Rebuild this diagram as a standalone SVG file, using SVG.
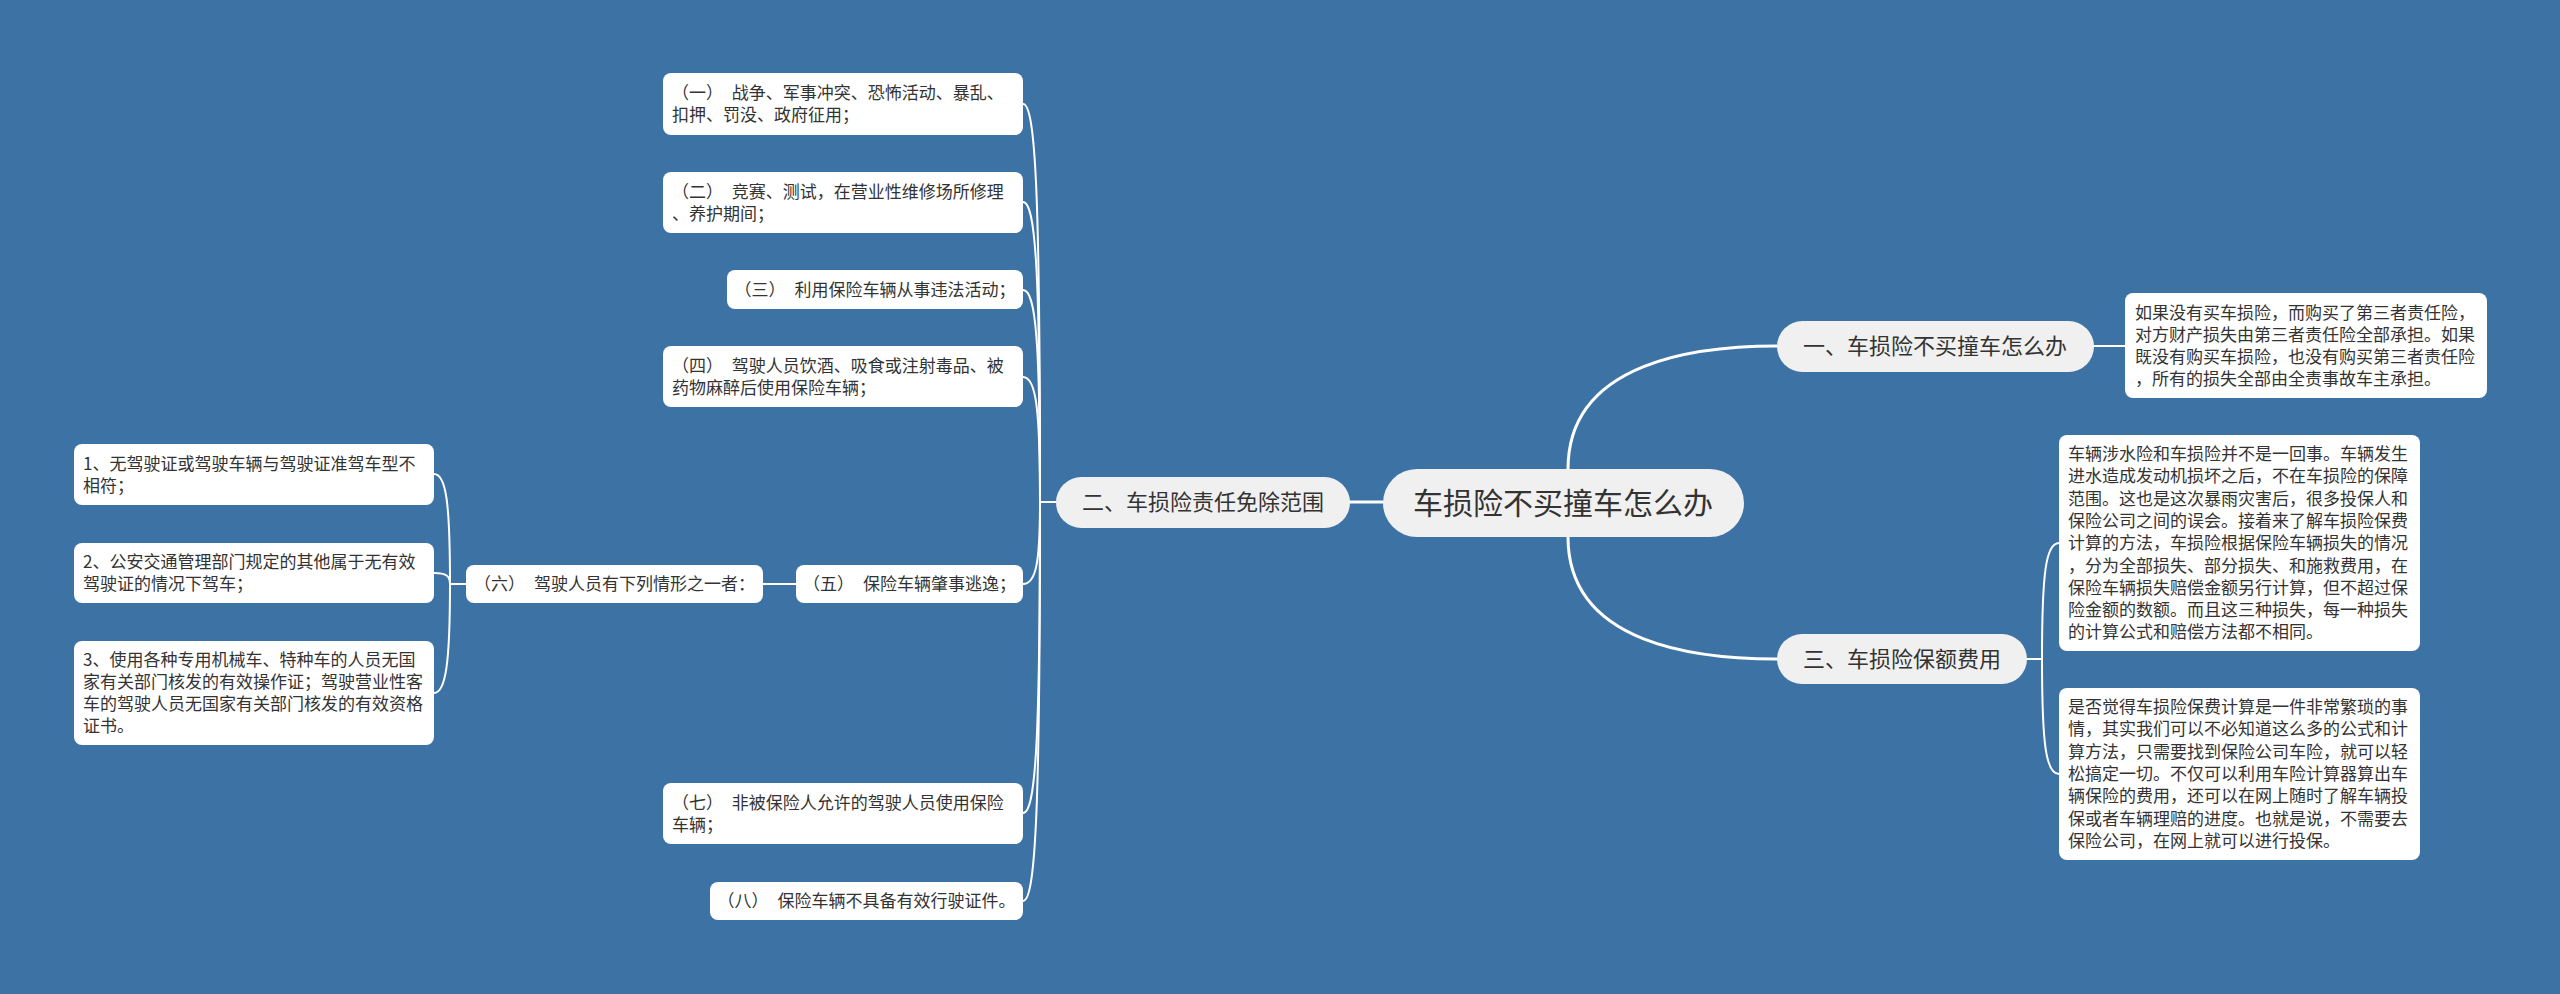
<svg xmlns="http://www.w3.org/2000/svg" width="2560" height="994" viewBox="0 0 2560 994">
<style>
.t{font-family:"Noto Sans CJK SC","Microsoft YaHei",sans-serif;fill:#333}
.s{font-size:17px;word-spacing:5px}
.m{font-size:22px}
.c{font-size:30px}
.mid{text-anchor:middle}
.box{fill:#ffffff}
.pill{fill:#f0f0f0}
.ln{fill:none;stroke:#ffffff;stroke-width:2;stroke-linecap:round}
.lnb{fill:none;stroke:#ffffff;stroke-width:3;stroke-linecap:round}
</style>
<rect x="0" y="0" width="2560" height="994" fill="#3d72a5"/>

<g id="connectors">
  <path class="lnb" d="M1568,469 C1568,360 1700,346 1777,346"/>
  <path class="lnb" d="M1568,537 C1568,646 1700,659 1777,659"/>
  <path class="lnb" d="M1350,502 L1383,502"/>
  <path class="ln" d="M2094,346 L2125,346"/>
  <path class="ln" d="M2027,659 L2042,659"/>
  <path class="ln" d="M2042,659 C2042,572 2046,543 2059,543"/>
  <path class="ln" d="M2042,659 C2042,745 2046,774 2059,774"/>
  <path class="ln" d="M1056,502 L1040,502"/>
  <path class="ln" d="M1040,502 C1040,203 1036,104 1023,104"/>
  <path class="ln" d="M1040,502 C1040,277 1036,202 1023,202"/>
  <path class="ln" d="M1040,502 C1040,343 1036,290 1023,290"/>
  <path class="ln" d="M1040,502 C1040,408 1036,377 1023,377"/>
  <path class="ln" d="M1040,502 C1040,563 1036,584 1023,584"/>
  <path class="ln" d="M1040,502 C1040,736 1036,813 1023,813"/>
  <path class="ln" d="M1040,502 C1040,801 1036,901 1023,901"/>
  <path class="ln" d="M763,584 L796,584"/>
  <path class="ln" d="M466,584 L450,584"/>
  <path class="ln" d="M450,584 C450,502 446,474 434,474"/>
  <path class="ln" d="M450,584 C450,576 446,573 434,573"/>
  <path class="ln" d="M450,584 C450,661 446,693 434,693"/>
</g>

<g id="root">
  <rect class="pill" x="1383" y="469" width="361" height="68" rx="34"/>
  <text class="t c mid" x="1563" y="514">车损险不买撞车怎么办</text>
</g>

<g id="n1">
  <rect class="pill" x="1777" y="321" width="317" height="51" rx="25.5"/>
  <text class="t m mid" x="1935" y="354">一、车损险不买撞车怎么办</text>
</g>
<g id="n1a">
  <rect class="box" x="2125" y="293" width="362" height="105" rx="8"/>
  <text class="t s" x="2135" y="318.5">如果没有买车损险，而购买了第三者责任险，<tspan x="2135" dy="22.3">对方财产损失由第三者责任险全部承担。如果</tspan><tspan x="2135" dy="22.3">既没有购买车损险，也没有购买第三者责任险</tspan><tspan x="2135" dy="22.3">，所有的损失全部由全责事故车主承担。</tspan></text>
</g>

<g id="n3">
  <rect class="pill" x="1777" y="634" width="250" height="50" rx="25"/>
  <text class="t m mid" x="1902" y="667">三、车损险保额费用</text>
</g>
<g id="n3a">
  <rect class="box" x="2059" y="435" width="361" height="216" rx="8"/>
  <text class="t s" x="2068" y="460">车辆涉水险和车损险并不是一回事。车辆发生<tspan x="2068" dy="22.3">进水造成发动机损坏之后，不在车损险的保障</tspan><tspan x="2068" dy="22.3">范围。这也是这次暴雨灾害后，很多投保人和</tspan><tspan x="2068" dy="22.3">保险公司之间的误会。接着来了解车损险保费</tspan><tspan x="2068" dy="22.3">计算的方法，车损险根据保险车辆损失的情况</tspan><tspan x="2068" dy="22.3">，分为全部损失、部分损失、和施救费用，在</tspan><tspan x="2068" dy="22.3">保险车辆损失赔偿金额另行计算，但不超过保</tspan><tspan x="2068" dy="22.3">险金额的数额。而且这三种损失，每一种损失</tspan><tspan x="2068" dy="22.3">的计算公式和赔偿方法都不相同。</tspan></text>
</g>
<g id="n3b">
  <rect class="box" x="2059" y="688" width="361" height="172" rx="8"/>
  <text class="t s" x="2068" y="713">是否觉得车损险保费计算是一件非常繁琐的事<tspan x="2068" dy="22.3">情，其实我们可以不必知道这么多的公式和计</tspan><tspan x="2068" dy="22.3">算方法，只需要找到保险公司车险，就可以轻</tspan><tspan x="2068" dy="22.3">松搞定一切。不仅可以利用车险计算器算出车</tspan><tspan x="2068" dy="22.3">辆保险的费用，还可以在网上随时了解车辆投</tspan><tspan x="2068" dy="22.3">保或者车辆理赔的进度。也就是说，不需要去</tspan><tspan x="2068" dy="22.3">保险公司，在网上就可以进行投保。</tspan></text>
</g>

<g id="n2">
  <rect class="pill" x="1056" y="477" width="294" height="51" rx="25.5"/>
  <text class="t m mid" x="1203" y="510">二、车损险责任免除范围</text>
</g>
<g id="n2-1">
  <rect class="box" x="663" y="73" width="360" height="62" rx="8"/>
  <text class="t s" x="672" y="99">（一） 战争、军事冲突、恐怖活动、暴乱、<tspan x="672" dy="22">扣押、罚没、政府征用；</tspan></text>
</g>
<g id="n2-2">
  <rect class="box" x="663" y="172" width="360" height="61" rx="8"/>
  <text class="t s" x="672" y="197.5">（二） 竞赛、测试，在营业性维修场所修理<tspan x="672" dy="22">、养护期间；</tspan></text>
</g>
<g id="n2-3">
  <rect class="box" x="727" y="270" width="296" height="39" rx="8"/>
  <text class="t s mid" x="875" y="296">（三） 利用保险车辆从事违法活动；</text>
</g>
<g id="n2-4">
  <rect class="box" x="663" y="346" width="360" height="61" rx="8"/>
  <text class="t s" x="672" y="371.5">（四） 驾驶人员饮酒、吸食或注射毒品、被<tspan x="672" dy="22">药物麻醉后使用保险车辆；</tspan></text>
</g>
<g id="n2-5">
  <rect class="box" x="796" y="565" width="227" height="38" rx="8"/>
  <text class="t s mid" x="909.5" y="590">（五） 保险车辆肇事逃逸；</text>
</g>
<g id="n2-6">
  <rect class="box" x="466" y="565" width="297" height="38" rx="8"/>
  <text class="t s mid" x="614.5" y="590">（六） 驾驶人员有下列情形之一者：</text>
</g>
<g id="n2-6-1">
  <rect class="box" x="74" y="444" width="360" height="61" rx="8"/>
  <text class="t s" x="83" y="469.5">1、无驾驶证或驾驶车辆与驾驶证准驾车型不<tspan x="83" dy="22">相符；</tspan></text>
</g>
<g id="n2-6-2">
  <rect class="box" x="74" y="543" width="360" height="60" rx="8"/>
  <text class="t s" x="83" y="568">2、公安交通管理部门规定的其他属于无有效<tspan x="83" dy="22">驾驶证的情况下驾车；</tspan></text>
</g>
<g id="n2-6-3">
  <rect class="box" x="74" y="641" width="360" height="104" rx="8"/>
  <text class="t s" x="83" y="666">3、使用各种专用机械车、特种车的人员无国<tspan x="83" dy="22">家有关部门核发的有效操作证；驾驶营业性客</tspan><tspan x="83" dy="22">车的驾驶人员无国家有关部门核发的有效资格</tspan><tspan x="83" dy="22">证书。</tspan></text>
</g>
<g id="n2-7">
  <rect class="box" x="663" y="783" width="360" height="61" rx="8"/>
  <text class="t s" x="672" y="808.5">（七） 非被保险人允许的驾驶人员使用保险<tspan x="672" dy="22">车辆；</tspan></text>
</g>
<g id="n2-8">
  <rect class="box" x="710" y="882" width="313" height="38" rx="8"/>
  <text class="t s mid" x="866.5" y="907">（八） 保险车辆不具备有效行驶证件。</text>
</g>
</svg>
